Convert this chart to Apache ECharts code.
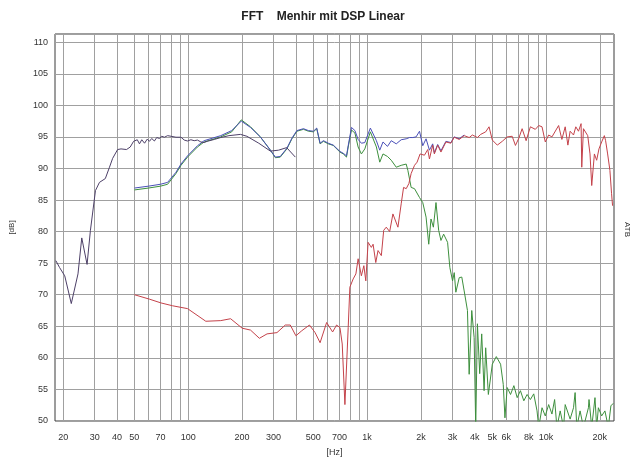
<!DOCTYPE html>
<html>
<head>
<meta charset="utf-8">
<script src="https://cdn.jsdelivr.net/npm/echarts@6/dist/echarts.min.js"></script>
<style>html,body{margin:0;padding:0;background:#fff}#c{width:640px;height:464px}</style>
</head>
<body>
<div id="c"></div>
<script>
// tick labels and grid lines (Hz)
var xLabelValues = [20,30,40,50,70,100,200,300,500,700,1000,2000,3000,4000,5000,6000,8000,10000,20000];
var xGridValues = [20,30,40,50,60,70,80,90,100,200,300,400,500,600,700,800,900,1000,2000,3000,4000,5000,6000,7000,8000,9000,10000,20000];

// series: [frequency Hz, level dB]
var purpleSeries = [[18.2,75.4],[19.1,74.3],[20.4,73.0],[22.2,68.6],[24.2,73.3],[25.4,79.0],[27.2,74.8],[28.4,80.2],[30.3,86.5],[31.9,87.8],[34.4,88.4],[36.3,90.2],[37.8,91.6],[40.3,93.0],[42.1,93.1],[45.2,93.0],[47.4,93.4],[49.5,94.3],
[50.1,94.2],[51.9,94.55],[53.4,93.9],[55.0,94.55],[57.0,94.0],[59.0,94.65],[60.7,94.3],[62.5,94.75],[64.7,94.35],[66.7,94.9],[69.0,94.75],[71.1,95.1],[73.6,94.95],[76.7,95.2],[80.1,95.1],[85.4,94.95],[91.1,94.95],[95.0,94.5],[99.1,94.35],[103.5,94.55],[108,94.4],[112.6,94.5],[117.7,94.2],[122.7,94.1],
[127.5,94.3],[140,94.6],[152,94.9],[169,95.2],[196,95.4],[212.8,95.1],[248,94.0],[288,92.75],[320,92.9],[355,93.3],[397,91.8]];

var greenSeries = [[50.1,86.6],[60,86.9],[70,87.2],[76.7,87.5],[85.4,89.2],[91.1,90.5],[99.1,91.8],[112.6,93.4],[122.7,94.2],[152,95.0],[175,95.8],[198,97.7],[223,96.6],[253,95.0],[288,92.9],[307,91.7],[327,91.8],[356,93.1],[380,94.7],[405,95.9],[441,96.2],[470,95.9],[501,95.8],[523,96.3],[546,93.9],[570,94.3],[607,93.9],[647,93.65],[705,92.6],[736,92.3],[767,91.8],[784,93.4],[818,96.1],[855,95.6],[891,93.4],[929,92.3],[971,93.1],[1043,95.8],[1127,93.4],[1177,91.0],[1227,92.3],[1300,91.9],[1365,91.3],[1455,90.2],[1551,90.5],[1654,90.7],[1690,89.7],[1763,87.0],[1841,86.8],[1879,87.0],[1963,85.4],[2047,84.6],[2136,82.3],[2211,78.0],[2276,82.0],[2347,80.7],[2427,84.6],[2512,80.2],[2587,78.6],[2678,79.6],[2818,78.3],[2902,74.3],[3004,72.2],[3070,73.5],[3134,70.4],[3273,72.7],[3383,72.8],[3489,70.6],[3639,67.5],[3720,57.4],[3846,67.5],[3966,63.2],[4048,49],[4137,65.4],[4260,57.5],[4372,63.8],[4508,54.8],[4601,61.6],[4762,54.2],[5012,59.0],[5276,60.2],[5574,59.0],[5769,55.8],[5896,50.5],[6071,55.3],
[6336,54.2],[6615,55.6],[6902,53.7],[7197,54.8],[7518,53.2],[7843,54.2],[8181,53.4],[8541,54.3],[8913,51.6],[9108,49],[9502,52.1],[9911,50.8],[10350,52.6],[10798,51.1],[11176,53.4],[11510,49],[12007,51.6],[12539,49],[12805,52.6],[13085,52.6],[13646,50.3],[14253,52.1],[14550,54.5],[14866,49],[15510,51.6],[16197,49],[17270,52.1],[17400,53.4],[18017,49],[18793,53.7],[19200,49],[19630,52.1],[20472,50.8],[21356,51.6],[22300,49],[23062,52.4],[23773,52.8]];

var blueSeries = [[50.1,86.9],[60,87.2],[70,87.5],[76.7,87.8],[85.4,89.4],[91.1,90.7],[99.1,92.0],[112.6,93.6],[122.7,94.4],[152,95.2],[175,96.0],[198,97.5],[223,96.5],[253,95.0],[288,92.9],[307,91.8],[327,91.9],[356,93.2],[380,94.8],[405,96.0],[441,96.3],[470,96.0],[501,95.9],[523,96.4],[546,94.0],[570,94.4],[607,94.0],[647,93.7],[705,92.7],[736,92.4],[767,92.0],[784,93.6],[818,96.5],[855,96.0],[891,94.6],[929,94.0],[971,94.1],[1043,96.4],[1127,94.4],[1177,92.9],[1227,94.2],[1300,93.5],[1365,94.4],[1455,93.9],[1551,94.55],[1654,94.7],[1727,94.9],[1801,94.9],[1879,95.0],[1963,95.9],[2047,93.6],[2136,94.7],[2231,92.9],[2326,93.9],[2377,92.5],[2480,93.8],[2587,92.8],[2758,94.3],[2939,94.1],[3070,95.0],[3273,94.7],[3489,95.3]];

var redSeries = [[50.1,70.0],[60.7,69.3],[70.5,68.7],[81.8,68.25],[99.1,67.8],[125.4,65.8],[152,65.9],[172.6,66.2],[200.3,64.7],[223,64.4],[250,63.1],[275.8,63.8],[313.4,64.0],[348.9,65.2],[372,65.2],[399.8,63.5],[431.5,64.3],[476,65.2],[512,64.0],[546,62.4],[594,65.6],[641.5,64.1],[675,65.2],[705,64.8],[726,62.2],[751.6,52.6],[784,64.8],[801,71.2],[836,72.5],
[865.6,73.3],[891,75.7],[929,73.0],[959,74.6],[983.5,72.2],[1013,78.3],[1056,77.5],[1080,78.0],[1118,75.1],[1151,77.0],[1201,76.2],[1238,80.2],[1280,80.7],[1337,80.0],[1394,82.8],[1487,80.7],[1551,84.4],[1599,87.0],[1654,86.8],[1712,87.6],[1763,89.2],[1841,90.5],[1903,91.0],[1978,92.3],[2092,92.1],[2183,93.0],[2231,91.5],[2326,93.7],[2377,92.3],[2480,93.7],[2587,92.6],[2758,94.2],[2939,94.0],[3070,94.95],[3273,94.6],[3489,95.2],[3720,94.9],[3880,95.3],[4137,94.9],[4315,95.4],[4601,95.8],[4805,96.6],[5012,94.5],[5344,93.7],[5696,94.3],[6071,95.0],[6471,95.1],[6750,93.65],[7052,94.8],[7356,96.3],[7743,94.4],[8181,96.6],[8719,96.2],[9108,96.8],[9502,96.6],[9911,94.2],[10350,95.3],[10798,95.0],[11766,96.8],[12271,94.6],[12805,96.6],[13255,93.7],[13646,95.9],[14253,95.3],[14678,96.6],[15196,95.9],[15710,97.1],[15849,90.2],[16197,96.3],[17113,95.2],[17625,92.3],[18017,87.3],[18648,92.3],[19200,91.3],[19776,93.1],[20472,94.2],[21197,95.2],[21544,94.4],[22110,92.3],[22770,89.7],[23263,86.0],[23564,84.1]];

var chart = echarts.init(document.getElementById('c'), null, {renderer: 'canvas'});
var font = '"Liberation Sans", Arial, sans-serif';
function mk(name, data, color) {
  return {name: name, type: 'line', data: data, showSymbol: false, symbol: 'none',
    lineStyle: {color: color, width: 1}, itemStyle: {color: color}, clip: true, animation: false};
}
chart.setOption({
  animation: false,
  backgroundColor: '#ffffff',
  title: {text: 'FFT    Menhir mit DSP Linear', left: 318, textAlign: 'center', top: 6,
    textStyle: {fontFamily: font, fontSize: 12, fontWeight: 'bold', color: '#222'}},
  grid: {left: 50, right: 26, top: 34, bottom: 43, show: true, borderColor: '#3a3a3a', borderWidth: 1, containLabel: false},
  xAxis: {type: 'log', logBase: 10, min: 18, max: 24000,
    name: '[Hz]', nameLocation: 'middle', nameGap: 27,
    nameTextStyle: {fontFamily: font, fontSize: 9, color: '#333'},
    axisLine: {show: false},
    axisTick: {show: false, customValues: xGridValues},
    axisLabel: {customValues: xLabelValues, fontFamily: font, fontSize: 9, color: '#333', margin: 12,
      formatter: function (v) { return v >= 1000 ? (v / 1000) + 'k' : String(v); }},
    splitLine: {show: true, lineStyle: {color: '#a0a0a0', width: 1}},
    minorSplitLine: {show: false}
  },
  yAxis: {type: 'value', min: 50, max: 111.3, interval: 5,
    name: '[dB]', nameLocation: 'middle', nameGap: 39,
    nameTextStyle: {fontFamily: font, fontSize: 8, color: '#333'},
    axisLine: {show: false}, axisTick: {show: false},
    axisLabel: {fontFamily: font, fontSize: 9, color: '#333', margin: 7,
      formatter: function (v) { return (Math.abs(v % 5) < 1e-6) ? String(v) : ''; }},
    splitLine: {show: true, lineStyle: {color: '#a0a0a0', width: 1}}
  },
  graphic: [{type: 'text', x: 631, y: 222, rotation: -Math.PI / 2,
    style: {text: 'ATB', font: '8px ' + font, fill: '#333'}}],
  series: [
    mk('green', greenSeries, '#3d8f3d'),
    mk('blue', blueSeries, '#4a50b8'),
    mk('purple', purpleSeries, '#4d4068'),
    mk('red', redSeries, '#c4424a')
  ]
});
</script>
</body>
</html>
